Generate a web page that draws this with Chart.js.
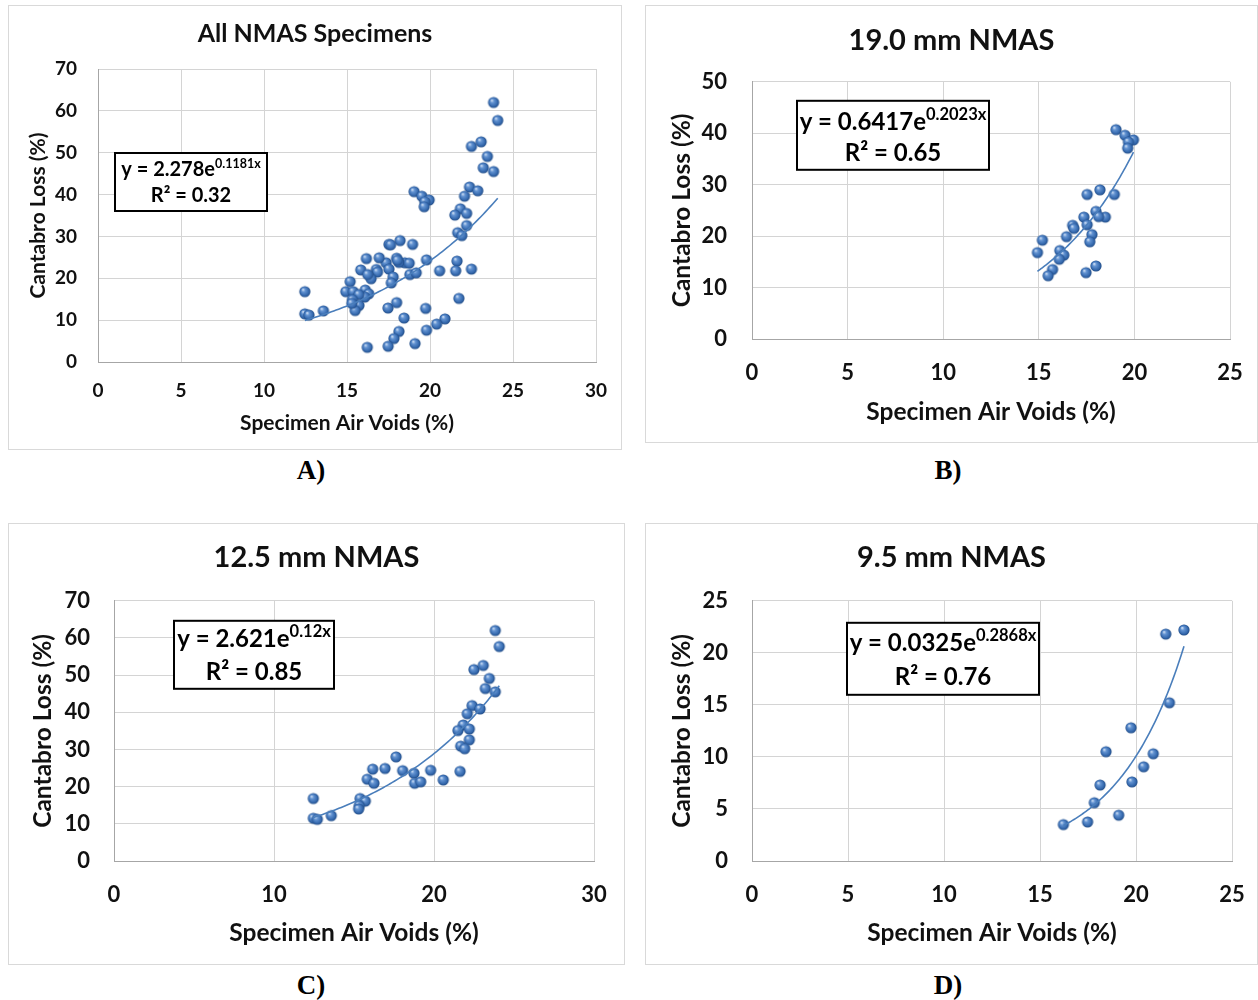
<!DOCTYPE html>
<html>
<head>
<meta charset="utf-8">
<script src="https://cdn.jsdelivr.net/npm/chart.js@4"></script>
<style>
  body { margin: 0; background: #fff; }
  #wrap { position: relative; width: 1258px; height: 1000px; }
  #wrap canvas { position: absolute; }
  .lbl { position: absolute; font: bold 27px "Liberation Serif", serif; color: #000; transform: translate(-50%, -50%); }
</style>
</head>
<body>
<div id="wrap">
  <canvas id="cA" style="left:8px;top:5px"></canvas>
  <canvas id="cB" style="left:645px;top:5px"></canvas>
  <canvas id="cC" style="left:8px;top:523px"></canvas>
  <canvas id="cD" style="left:645px;top:523px"></canvas>
  <div class="lbl" style="left:311px;top:470px">A)</div>
  <div class="lbl" style="left:948px;top:470px">B)</div>
  <div class="lbl" style="left:311px;top:985px">C)</div>
  <div class="lbl" style="left:948px;top:985px">D)</div>
</div>
<script>
// 19.0 mm NMAS specimens
const nmas19X = [19.04, 19.51, 19.95, 19.69, 19.65, 17.53, 18.2, 18.95, 17.99, 18.48, 18.13, 17.36, 16.77, 16.84,
  17.53, 16.45, 17.78, 17.67, 15.19, 14.93, 16.1, 16.31, 16.07, 15.72, 15.49, 17.47, 17.99];
const nmas19Y = [40.7, 39.6, 38.7, 38.3, 37.1, 28.1, 29.0, 28.1, 24.8, 23.7, 23.8, 23.7, 22.1, 21.5,
  22.2, 19.9, 20.3, 18.9, 19.2, 16.8, 17.2, 16.3, 15.5, 13.5, 12.3, 12.9, 14.2];

// 12.5 mm NMAS specimens
const nmas125X = [23.83, 24.08, 22.5, 23.08, 23.46, 23.21, 23.83, 22.38, 22.88, 22.08, 21.83, 22.21, 21.5, 22.21,
  21.67, 21.92, 17.63, 16.17, 16.94, 18.04, 18.75, 19.79, 21.63, 15.83, 16.25, 18.79, 19.17, 20.58,
  12.46, 15.38, 15.71, 15.33, 15.29, 12.46, 12.71, 13.58];
const nmas125Y = [62.0, 57.7, 51.5, 52.6, 49.1, 46.4, 45.5, 41.8, 40.9, 39.6, 36.6, 35.5, 35.1, 32.6,
  30.9, 30.2, 28.0, 24.7, 24.9, 24.3, 23.6, 24.4, 24.1, 22.0, 20.9, 20.9, 21.3, 21.8,
  16.8, 16.8, 16.1, 14.9, 14.0, 11.5, 11.2, 12.2];

// 9.5 mm NMAS specimens
const nmas95X = [21.55, 22.5, 21.74, 19.74, 18.44, 20.9, 20.4, 19.79, 18.13, 17.83, 16.22, 17.48, 19.1];
const nmas95Y = [21.8, 22.2, 15.2, 12.8, 10.5, 10.3, 9.05, 7.6, 7.3, 5.6, 3.5, 3.75, 4.4];

// all specimens = every NMAS group together
const allX = nmas19X.concat(nmas125X, nmas95X);
const allY = nmas19Y.concat(nmas125Y, nmas95Y);

// exponential trendlines as printed on the charts: y = a * e^(b x)
const fitAll = [2.278, 0.1181];
const fit19 = [0.6417, 0.2023];
const fit125 = [2.621, 0.12];
const fit95 = [0.0325, 0.2868];

// axis ranges [min, max, step]
const xAxisA = [0, 30, 5], yAxisA = [0, 70, 10];
const xAxisB = [0, 25, 5], yAxisB = [0, 50, 10];
const xAxisC = [0, 30, 10], yAxisC = [0, 70, 10];
const xAxisD = [0, 25, 5], yAxisD = [0, 25, 5];

const FONT = 'Lato, "Open Sans", sans-serif';
const BLUE = '#4a7ebb';

function sphere(r) {
  const c = document.createElement('canvas');
  const s = Math.ceil(r * 2) + 2;
  c.width = s; c.height = s;
  const g = c.getContext('2d');
  const m = s / 2;
  const grad = g.createRadialGradient(m - r * 0.35, m - r * 0.4, r * 0.05, m, m, r);
  grad.addColorStop(0, '#d0e0f5');
  grad.addColorStop(0.3, '#6494d2');
  grad.addColorStop(0.75, '#366aaf');
  grad.addColorStop(1, '#1f4a84');
  g.fillStyle = grad;
  g.beginPath();
  g.arc(m, m, r, 0, Math.PI * 2);
  g.fill();
  return c;
}
const dot = sphere(5.6);

const frame = {
  id: 'frame',
  beforeDraw(chart) {
    const {ctx, width, height} = chart;
    ctx.save();
    ctx.fillStyle = '#fff';
    ctx.fillRect(0, 0, width, height);
    ctx.strokeStyle = '#d9d9d9';
    ctx.lineWidth = 1;
    ctx.strokeRect(0.5, 0.5, width - 1, height - 1);
    ctx.restore();
  }
};

const eqBox = {
  id: 'eqBox',
  afterDraw(chart, args, o) {
    const {ctx, chartArea} = chart;
    const x = chartArea.left + o.dx, y = chartArea.top + o.dy;
    ctx.save();
    ctx.fillStyle = '#fff';
    ctx.fillRect(x, y, o.w, o.h);
    ctx.lineWidth = 2;
    ctx.strokeStyle = '#000';
    ctx.strokeRect(x, y, o.w, o.h);
    ctx.fillStyle = '#000';
    ctx.textBaseline = 'middle';
    ctx.font = 'bold ' + o.size + 'px ' + FONT;
    const w1 = ctx.measureText(o.base).width;
    ctx.font = 'bold ' + o.sup + 'px ' + FONT;
    const w2 = ctx.measureText(o.exp).width;
    let tx = x + (o.w - w1 - w2) / 2;
    ctx.font = 'bold ' + o.size + 'px ' + FONT;
    ctx.textAlign = 'left';
    ctx.fillText(o.base, tx, y + o.l1);
    ctx.font = 'bold ' + o.sup + 'px ' + FONT;
    ctx.fillText(o.exp, tx + w1, y + o.l1 - o.size * 0.3);
    ctx.font = 'bold ' + o.size + 'px ' + FONT;
    ctx.textAlign = 'center';
    ctx.fillText(o.r2, x + o.w / 2, y + o.l2);
    ctx.restore();
  }
};

function fitText(f) {
  return {base: 'y = ' + f[0] + 'e', exp: f[1] + 'x'};
}

function makeChart(id, p) {
  const cv = document.getElementById(id);
  cv.width = p.w; cv.height = p.h;
  cv.style.width = p.w + 'px'; cv.style.height = p.h + 'px';
  const pts = p.xs.map((v, i) => ({x: v, y: p.ys[i]}));
  const lo = Math.min(...p.xs), hi = Math.max(...p.xs);
  const trend = [];
  for (let k = 0; k <= 80; k++) {
    const xv = lo + (hi - lo) * k / 80;
    trend.push({x: xv, y: p.fit[0] * Math.exp(p.fit[1] * xv)});
  }
  const tickFont = {family: FONT, size: p.tick, weight: 'bold'};
  const axFont = {family: FONT, size: p.axis, weight: 'bold'};
  const eq = fitText(p.fit);
  return new Chart(cv, {
    type: 'scatter',
    data: {
      datasets: [
        {
          label: 'trend',
          type: 'line',
          data: trend,
          borderColor: BLUE,
          borderWidth: 1.6,
          pointRadius: 0,
          fill: false,
          order: 0
        },
        {
          label: 'Cantabro Loss',
          data: pts,
          pointStyle: dot,
          pointRadius: 6,
          order: 1
        }
      ]
    },
    options: {
      responsive: false,
      animation: false,
      // equal side padding keeps the title centred on the whole panel
      layout: {padding: {left: p.pad, top: 0, right: p.pad, bottom: 0}},
      plugins: {
        legend: {display: false},
        tooltip: {enabled: false},
        title: {
          display: true,
          text: p.title,
          color: '#111',
          font: {family: FONT, size: p.titleSize, weight: 'bold'},
          padding: {top: p.titlePad[0], bottom: p.titlePad[1]}
        },
        eqBox: Object.assign({r2: 'R² = ' + p.r2}, eq, p.box)
      },
      scales: {
        x: {
          type: 'linear',
          min: p.xAx[0], max: p.xAx[1],
          ticks: {stepSize: p.xAx[2], padding: p.xTickPad, color: '#111', font: tickFont},
          grid: {color: '#d4d4d4', drawTicks: false},
          border: {color: '#a6a6a6'},
          title: {display: true, text: 'Specimen Air Voids (%)', color: '#111', font: axFont,
                  padding: {top: 0, bottom: p.xTitlePad}},
          afterFit(s) { s.height = p.xH; s.paddingLeft = 0; s.paddingRight = 0; }
        },
        y: {
          type: 'linear',
          min: p.yAx[0], max: p.yAx[1],
          ticks: {stepSize: p.yAx[2], padding: p.yTickPad, color: '#111', font: tickFont},
          grid: {color: '#d4d4d4', drawTicks: false},
          border: {color: '#a6a6a6'},
          title: {display: true, text: 'Cantabro Loss (%)', color: '#111', font: axFont,
                  padding: {top: p.yTitlePad, bottom: 0}},
          afterFit(s) { s.width = p.yW; s.paddingTop = 0; s.paddingBottom = 0; }
        }
      }
    },
    plugins: [frame, eqBox]
  });
}

makeChart('cA', {
  w: 614, h: 445, title: 'All NMAS Specimens', titleSize: 25, titlePad: [14, 20],
  xs: allX, ys: allY, fit: fitAll, r2: '0.32', xAx: xAxisA, yAx: yAxisA,
  tick: 19, axis: 21, yW: 64, xH: 88, pad: 26,
  yTickPad: 21, xTickPad: 17, yTitlePad: -8.6, xTitlePad: 14.4,
  box: {dx: 17, dy: 84, w: 152, h: 58, l1: 17, l2: 43, size: 20, sup: 12.5}
});
makeChart('cB', {
  w: 613, h: 438, title: '19.0 mm NMAS', titleSize: 29, titlePad: [18, 24],
  xs: nmas19X, ys: nmas19Y, fit: fit19, r2: '0.65', xAx: xAxisB, yAx: yAxisB,
  tick: 22, axis: 24.5, yW: 79, xH: 104, pad: 28,
  yTickPad: 25, xTickPad: 21, yTitlePad: -5.7, xTitlePad: 16.3,
  box: {dx: 45, dy: 19, w: 192, h: 69, l1: 21, l2: 52, size: 24, sup: 16.5}
});
makeChart('cC', {
  w: 617, h: 442, title: '12.5 mm NMAS', titleSize: 29, titlePad: [17, 26],
  xs: nmas125X, ys: nmas125Y, fit: fit125, r2: '0.85', xAx: xAxisC, yAx: yAxisC,
  tick: 22, axis: 24.5, yW: 75, xH: 104, pad: 31,
  yTickPad: 24, xTickPad: 21, yTitlePad: -10.7, xTitlePad: 17.3,
  box: {dx: 60, dy: 20, w: 160, h: 68, l1: 18, l2: 51, size: 24, sup: 16.5}
});
makeChart('cD', {
  w: 613, h: 442, title: '9.5 mm NMAS', titleSize: 29, titlePad: [17, 26],
  xs: nmas95X, ys: nmas95Y, fit: fit95, r2: '0.76', xAx: xAxisD, yAx: yAxisD,
  tick: 22, axis: 24.5, yW: 81, xH: 104, pad: 26,
  yTickPad: 24, xTickPad: 21, yTitlePad: -3.7, xTitlePad: 17.3,
  box: {dx: 95, dy: 22, w: 192, h: 72, l1: 20, l2: 54, size: 24, sup: 16.5}
});
</script>
</body>
</html>
